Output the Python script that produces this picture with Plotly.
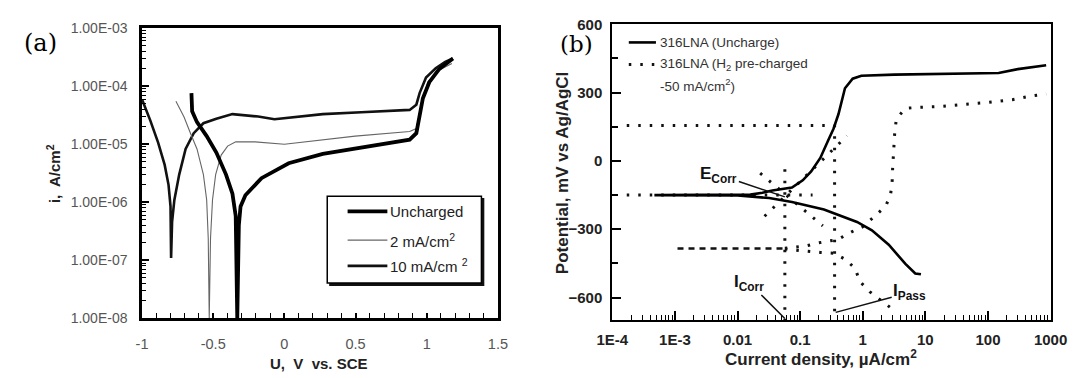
import math
import plotly.graph_objects as go

W, H = 1086, 378

# ---------------- panel (a): potential (V vs SCE) vs current density (A/cm2)
a_unch_V = [-0.653, -0.648, -0.614, -0.546, -0.478, -0.41, -0.365, -0.342, -0.331, -0.32, -0.308,
            -0.274, -0.161, 0.03, 0.27, 0.497, 0.769, 0.88, 0.927, 0.95, 0.973, 1.018, 1.086, 1.184]
a_unch_i = [7.6e-5, 3.7e-5, 2.4e-5, 1.38e-5, 7.2e-6, 3.0e-6, 1.41e-6, 5.8e-7, 1.0e-8, 4.0e-7, 8.5e-7,
            1.32e-6, 2.6e-6, 4.7e-6, 6.8e-6, 8.3e-6, 1.07e-5, 1.2e-5, 1.55e-5, 2.95e-5, 6.2e-5, 1.17e-4, 1.95e-4, 3.0e-4]

a_2_V = [-0.762, -0.705, -0.66, -0.614, -0.569, -0.546, -0.535, -0.528, -0.519, -0.505, -0.483, -0.444,
         -0.399, -0.342, -0.206, 0.0, 0.497, 0.88, 0.927, 0.961, 1.007, 1.075, 1.177]
a_2_i = [5.5e-5, 2.95e-5, 1.55e-5, 8.3e-6, 3.0e-6, 1.1e-6, 2.4e-7, 1.0e-8, 2.4e-7, 1.1e-6, 3.0e-6, 6.5e-6,
         9.3e-6, 1.1e-5, 1.1e-5, 1.0e-5, 1.38e-5, 1.66e-5, 1.86e-5, 4.8e-5, 1.17e-4, 1.82e-4, 2.45e-4]

a_10_V = [-1.0, -0.943, -0.887, -0.841, -0.814, -0.80, -0.796, -0.789, -0.773, -0.739, -0.694, -0.637,
          -0.569, -0.478, -0.365, -0.252, -0.184, -0.07, 0.27, 0.54, 0.88, 0.927, 0.95, 0.995, 1.063, 1.13, 1.184]
a_10_i = [5.9e-5, 2.6e-5, 1.07e-5, 4.4e-6, 2.0e-6, 8.5e-7, 1.1e-7, 4.6e-7, 1.1e-6, 3.0e-6, 8.3e-6, 1.55e-5,
          2.3e-5, 2.75e-5, 3.3e-5, 3.1e-5, 3.0e-5, 2.7e-5, 3.3e-5, 3.55e-5, 3.9e-5, 4.8e-5, 7.6e-5, 1.41e-4,
          2.04e-4, 2.63e-4, 3.0e-4]

a_legend = ["Uncharged", "2 mA/cm<sup>2</sup>", "10 mA/cm <sup>2</sup>"]
a_xticks = [-1, -0.5, 0, 0.5, 1, 1.5]
a_xticklabels = ["-1", "-0.5", "0", "0.5", "1", "1.5"]
a_yticks = [1e-8, 1e-7, 1e-6, 1e-5, 1e-4, 1e-3]
a_yticklabels = ["1.00E-08", "1.00E-07", "1.00E-06", "1.00E-05", "1.00E-04", "1.00E-03"]

# ---------------- panel (b): current density (uA/cm2) vs potential (mV vs Ag/AgCl)
b_unch_i = [8.5, 6.9, 4.8, 2.6, 1.4, 0.81, 0.24, 0.074, 0.032, 0.01, 0.00047, 0.01, 0.016, 0.025, 0.036,
            0.074, 0.11, 0.15, 0.21, 0.28, 0.34, 0.41, 0.47, 0.52, 0.69, 0.95, 3.2, 10, 50, 148, 300, 850]
b_unch_E = [-498, -494, -452, -368, -305, -268, -213, -180, -163, -152, -150, -149, -148, -140, -130,
            -117, -85, -46, 13, 90, 140, 206, 277, 319, 361, 374, 379, 382, 385, 386, 403, 420]

b_pc_an_i = [0.057, 0.126, 0.195, 0.29, 0.40, 0.68, 1.0, 1.55, 2.35, 2.8, 2.95, 3.0, 3.1, 3.15, 3.25,
             3.45, 4.8, 7.6, 17.4, 41, 93, 245, 510, 850]
b_pc_an_E = [-383, -373, -360, -352, -345, -310, -289, -243, -197, -142, -88, -33, 25, 80, 130,
             185, 231, 235, 239, 248, 256, 269, 286, 294]
b_pc_ca_i = [0.057, 0.095, 0.21, 0.34, 0.52, 0.76, 0.89, 1.29, 2.8]
b_pc_ca_E = [-387, -394, -402, -405, -431, -473, -528, -574, -645]
b_pc_flat_i = [0.0011, 0.057]
b_pc_flat_E = [-385, -385]

# construction lines (passivation, Ecorr, Icorr, Tafel extrapolations)
b_pass_i = [0.00017, 0.355, 0.355]
b_pass_E = [155, 155, -700]
b_ecorr_i = [0.00017, 0.158]
b_ecorr_E = [-150, -150]
b_icorr_i = [0.057, 0.057]
b_icorr_E = [-37, -700]
b_tafa_i = [0.027, 0.56]
b_tafa_E = [-243, 110]
b_tafc_i = [0.023, 0.23]
b_tafc_E = [-54, -285]

E_corr, I_corr, I_pass = -158, 0.057, 0.37

b_legend = ["316LNA (Uncharge)", "316LNA (H<sub>2</sub> pre-charged", "-50 mA/cm<sup>2</sup>)"]
b_xticks = [1e-4, 1e-3, 1e-2, 1e-1, 1, 10, 100, 1000]
b_xticklabels = ["1E-4", "1E-3", "0.01", "0.1", "1", "10", "100", "1000"]
b_yticks = [600, 300, 0, -300, -600]
b_yminor = [450, 150, -150, -450]


def fx(x):
    return x / W


def fy(y):
    return 1 - y / H


def log_minor(lo, hi):
    out = []
    for d in range(lo, hi):
        for k in range(2, 10):
            out.append(k * 10 ** d)
    return out


a_xminor = [round(-1 + 0.1 * k, 2) for k in range(26)]

SANS = "Liberation Sans, Arial, sans-serif"
DOT = "2.5px,9px"

fig = go.Figure()

# panel (a) curves
fig.add_trace(go.Scatter(x=a_10_V, y=a_10_i, mode="lines", line=dict(color="#111", width=2.6),
                         xaxis="x", yaxis="y", name="10 mA/cm2"))
fig.add_trace(go.Scatter(x=a_2_V, y=a_2_i, mode="lines", line=dict(color="#666", width=1.1),
                         xaxis="x", yaxis="y", name="2 mA/cm2"))
fig.add_trace(go.Scatter(x=a_unch_V, y=a_unch_i, mode="lines", line=dict(color="#000", width=3.8),
                         xaxis="x", yaxis="y", name="Uncharged"))

# panel (b) curves
for xs, ys in [(b_pass_i, b_pass_E), (b_ecorr_i, b_ecorr_E), (b_icorr_i, b_icorr_E),
               (b_tafa_i, b_tafa_E), (b_tafc_i, b_tafc_E), (b_pc_an_i, b_pc_an_E), (b_pc_ca_i, b_pc_ca_E)]:
    fig.add_trace(go.Scatter(x=xs, y=ys, mode="lines", line=dict(color="#111", width=3, dash=DOT),
                             xaxis="x2", yaxis="y2"))
fig.add_trace(go.Scatter(x=b_pc_flat_i, y=b_pc_flat_E, mode="lines",
                         line=dict(color="#111", width=2.5, dash="6px,5px"), xaxis="x2", yaxis="y2"))
fig.add_trace(go.Scatter(x=b_unch_i, y=b_unch_E, mode="lines", line=dict(color="#000", width=2.6),
                         xaxis="x2", yaxis="y2"))

# empty traces so the minor-tick overlay axes get drawn
for xa, ya in [("x3", "y"), ("x", "y3"), ("x4", "y2"), ("x2", "y4")]:
    fig.add_trace(go.Scatter(x=[], y=[], xaxis=xa, yaxis=ya, hoverinfo="skip"))

common = dict(showgrid=False, zeroline=False, showline=True, linecolor="#000", mirror=True,
              ticks="inside", tickcolor="#000")
minor_common = dict(showgrid=False, zeroline=False, showline=False, ticks="inside", tickcolor="#000",
                    showticklabels=False, tickmode="array")

fig.update_layout(
    width=W, height=H, margin=dict(l=0, r=0, t=0, b=0),
    paper_bgcolor="white", plot_bgcolor="white", showlegend=False,
    font=dict(family=SANS, color="#111"),
    xaxis=dict(domain=[fx(130), fx(497)], range=[-1, 1.5], anchor="y",
               tickvals=a_xticks, ticktext=a_xticklabels, ticklen=6, tickwidth=1.5, linewidth=2.5,
               tickfont=dict(family=SANS, size=14.5, color="#555"), ticklabelstandoff=10, **common),
    yaxis=dict(domain=[fy(324), fy(20)], type="log", range=[-8, -3], anchor="x",
               tickvals=a_yticks, ticktext=a_yticklabels, ticklen=7, tickwidth=1.5, linewidth=2.5,
               tickfont=dict(family=SANS, size=14, color="#555"), ticklabelstandoff=9, **common),
    xaxis3=dict(overlaying="x", range=[-1, 1.5], anchor="y", tickvals=a_xminor, ticklen=5, tickwidth=1.3,
                **minor_common),
    yaxis3=dict(overlaying="y", type="log", range=[-8, -3], anchor="x", tickvals=log_minor(-8, -3),
                ticklen=4, tickwidth=1, **minor_common),
    xaxis2=dict(domain=[fx(615), fx(1067)], type="log", range=[-4, 3], anchor="y2",
                tickvals=b_xticks, ticktext=b_xticklabels, ticklen=9, tickwidth=1.5, linewidth=2,
                tickfont=dict(family=SANS, size=15, color="#222", weight="bold"), ticklabelstandoff=5, **common),
    yaxis2=dict(domain=[fy(326), fy(16)], range=[-700, 600], anchor="x2",
                tickvals=b_yticks, ticklen=9, tickwidth=1.8, linewidth=2,
                tickfont=dict(family=SANS, size=15, color="#222", weight="bold"), ticklabelstandoff=5, **common),
    xaxis4=dict(overlaying="x2", type="log", range=[-4, 3], anchor="y2", tickvals=log_minor(-4, 3),
                ticklen=5, tickwidth=1.2, **minor_common),
    yaxis4=dict(overlaying="y2", range=[-700, 600], anchor="x2", tickvals=b_yminor,
                ticklen=6, tickwidth=1.5, **minor_common),
)

ann = []
shapes = []
# panel labels
ann.append(dict(text="(a)", x=fx(25), y=fy(36), font=dict(family="DejaVu Serif", size=24, color="#000")))
ann.append(dict(text="(b)", x=fx(578), y=fy(37), font=dict(family="DejaVu Serif", size=23, color="#000")))
# axis titles (a)
ann.append(dict(text="<b>i,  A/cm<sup>2</sup></b>", x=fx(38), y=fy(172), textangle=-90,
                font=dict(family=SANS, size=15, color="#222")))
ann.append(dict(text="<b>U,  V  vs. SCE</b>", x=fx(313), y=fy(371),
                font=dict(family=SANS, size=15, color="#222")))
# axis titles (b)
ann.append(dict(text="<b>Potential, mV vs Ag/AgCl</b>", x=fx(563), y=fy(172), textangle=-90,
                font=dict(family=SANS, size=17, color="#222")))
ann.append(dict(text="<b>Current density, µA/cm<sup>2</sup></b>", x=fx(830), y=fy(365),
                font=dict(family=SANS, size=17, color="#222")))
for a in ann:
    a.update(xref="paper", yref="paper", showarrow=False, xanchor="center", yanchor="middle")

P = dict(xref="paper", yref="paper")
# legend (a)
shapes.append(dict(type="rect", x0=fx(323), x1=fx(483), y0=fy(290), y1=fy(198), fillcolor="#111",
                   line=dict(width=0), **P))
shapes.append(dict(type="rect", x0=fx(321), x1=fx(480), y0=fy(287), y1=fy(196), fillcolor="white",
                   line=dict(color="#000", width=1.5), **P))
for yy, wd, col, txt in [(212, 3.8, "#000", a_legend[0]), (242, 1.1, "#666", a_legend[1]),
                         (269, 2.6, "#111", a_legend[2])]:
    shapes.append(dict(type="line", x0=fx(342), x1=fx(383), y0=fy(yy), y1=fy(yy),
                       line=dict(color=col, width=wd), **P))
    ann.append(dict(text=txt, x=fx(384), y=fy(yy), xref="paper", yref="paper", showarrow=False,
                    xanchor="left", yanchor="middle", font=dict(family=SANS, size=15, color="#222")))

# legend (b)
shapes.append(dict(type="line", x0=fx(632), x1=fx(660), y0=fy(35), y1=fy(35),
                   line=dict(color="#000", width=2.6), **P))
shapes.append(dict(type="line", x0=fx(632), x1=fx(662), y0=fy(58), y1=fy(58),
                   line=dict(color="#111", width=3, dash=DOT), **P))
for yy, txt in [(35, b_legend[0]), (58, b_legend[1]), (80, b_legend[2])]:
    ann.append(dict(text=txt, x=fx(662), y=fy(yy), xref="paper", yref="paper", showarrow=False,
                    xanchor="left", yanchor="middle", font=dict(family=SANS, size=13.5, color="#333")))

# E_corr / I_corr / I_pass labels
lab_font = dict(family=SANS, size=17, color="#111")
ann.append(dict(text="<b>E<sub>Corr</sub></b>", x=math.log10(I_corr), y=E_corr, xref="x2", yref="y2",
                showarrow=True, arrowhead=0, arrowwidth=1.5, arrowcolor="#111", ax=-66, ay=-22,
                standoff=0, font=lab_font))
ann.append(dict(text="<b>I<sub>Corr</sub></b>", x=math.log10(I_corr), y=-692, xref="x2", yref="y2",
                showarrow=True, arrowhead=0, arrowwidth=1.5, arrowcolor="#111", ax=-36, ay=-36,
                standoff=0, font=lab_font))
ann.append(dict(text="<b>I<sub>Pass</sub></b>", x=math.log10(I_pass), y=-665, xref="x2", yref="y2",
                showarrow=True, arrowhead=0, arrowwidth=1.5, arrowcolor="#111", ax=74, ay=-20,
                standoff=0, font=lab_font))

fig.update_layout(annotations=ann, shapes=shapes)
fig.write_html("out.html", config={"displayModeBar": False},
               post_script="document.body.style.margin='0px';")
